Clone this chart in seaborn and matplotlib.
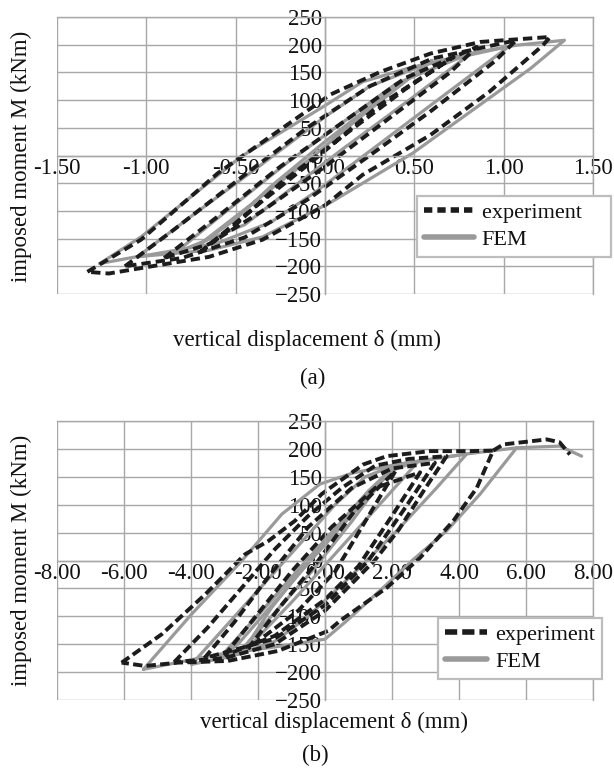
#!/usr/bin/env python3
"""
Hysteresis loops: experiment vs FEM, panels (a) and (b)
"""

import numpy as np
import pandas as pd
import matplotlib
matplotlib.use('Agg')
import matplotlib.pyplot as plt
import seaborn as sns
from matplotlib.lines import Line2D
from matplotlib.ticker import MultipleLocator, FormatStrFormatter

sns.set_theme(style='white')
plt.rcParams['font.family'] = ['Liberation Serif', 'DejaVu Serif']

DARK = '#1c1c1c'
GRAY = '#9a9a9a'
GRID = '#a8a8a8'

# ---- panel (a): (displacement mm, moment kNm), each loop closed ----
fem_a1 = [(-1.26, -195), (-1.03, -147), (-0.47, -2), (0.0, 90), (0.21, 133), (0.46, 157),
          (0.81, 184), (1.07, 199), (1.34, 208), (1.15, 157), (0.49, 4), (0.03, -85),
          (-0.35, -147), (-0.65, -171), (-1.06, -183), (-1.26, -195)]
fem_a2 = [(-1.05, -183), (-0.75, -110), (-0.35, -15), (0.0, 70), (0.25, 125), (0.55, 163),
          (1.03, 197), (0.63, 100), (0.28, 15), (-0.05, -65), (-0.3, -120), (-0.6, -158),
          (-1.05, -183)]
fem_a3 = [(-0.84, -176), (-0.55, -100), (-0.2, -10), (0.1, 60), (0.4, 130), (0.82, 185),
          (0.45, 95), (0.1, 12), (-0.15, -50), (-0.45, -125), (-0.84, -176)]
fem_a4 = [(-0.72, -165), (-0.4, -85), (-0.1, -10), (0.2, 70), (0.6, 172), (0.28, 95),
          (0.0, 25), (-0.3, -55), (-0.5, -115), (-0.72, -165)]

exp_a1 = [(-1.33, -210), (-1.03, -152), (-0.6, -32), (-0.28, 40), (0.03, 110), (0.31, 151),
          (0.59, 184), (0.87, 205), (1.26, 214), (1.22, 199), (0.92, 115), (0.59, 37),
          (0.21, -35), (0.0, -90), (-0.35, -152), (-0.65, -183), (-0.97, -200),
          (-1.21, -213), (-1.33, -210)]
exp_a2 = [(-1.12, -200), (-0.85, -135), (-0.45, -35), (-0.1, 50), (0.25, 125), (0.6, 175),
          (1.07, 208), (0.95, 170), (0.6, 82), (0.25, 0), (-0.1, -80), (-0.45, -148),
          (-0.8, -185), (-1.12, -200)]
exp_a3 = [(-0.9, -185), (-0.6, -110), (-0.25, -20), (0.1, 60), (0.45, 140), (0.85, 196),
          (0.7, 150), (0.35, 65), (0.0, -20), (-0.35, -100), (-0.65, -160), (-0.9, -185)]
exp_a4 = [(-0.7, -175), (-0.4, -95), (-0.05, -5), (0.3, 90), (0.72, 178), (0.45, 120),
          (0.1, 35), (-0.25, -50), (-0.5, -125), (-0.7, -175)]

# ---- panel (b) ----
fem_b1 = [(-5.42, -195), (-3.98, -96), (-2.49, -1), (-1.29, 83), (-0.15, 137), (0.84, 157),
          (2.14, 172), (4.23, 191), (5.72, 202), (4.63, 119), (3.63, 53), (2.64, 2),
          (1.84, -43), (0.65, -108), (0.0, -141), (-1.5, -155), (-3.16, -168), (-5.42, -195)]
fem_b_end = [(5.72, 202), (7.01, 205), (7.66, 187)]
fem_b2 = [(-3.98, -186), (-2.5, -87), (-1.0, 13), (0.3, 100), (1.2, 150), (2.14, 172),
          (4.23, 191), (3.33, 130), (2.14, 53), (0.84, -24), (-0.5, -100), (-1.5, -145),
          (-2.8, -172), (-3.98, -186)]
fem_b3 = [(-3.18, -177), (-2.0, -98), (-0.5, 2), (0.9, 95), (1.6, 140), (2.14, 165),
          (2.79, 178), (2.0, 125), (0.5, 25), (-1.0, -75), (-2.2, -150), (-3.18, -177)]
fem_b4 = [(-3.18, -177), (-2.2, -112), (-1.0, -30), (0.3, 57), (1.3, 125), (2.14, 172),
          (1.0, 95), (-0.5, -5), (-1.8, -95), (-2.6, -150), (-3.18, -177)]
fem_b5 = [(-2.6, -168), (-1.6, -100), (-0.4, -20), (0.8, 70), (1.9, 160), (0.7, 80),
          (-0.6, -10), (-1.6, -85), (-2.2, -140), (-2.6, -168)]

exp_b1 = [(-6.07, -183), (-4.87, -132), (-3.58, -61), (-2.39, 11), (-1.69, 35), (-0.9, 71),
          (-0.1, 119), (0.15, 130), (1.14, 172), (1.84, 187), (3.13, 196), (4.33, 196),
          (5.02, 197), (4.53, 130), (3.83, 71), (2.84, 5), (1.84, -49), (0.45, -108),
          (0.1, -126), (-1.4, -162), (-2.9, -180), (-4.38, -183), (-5.37, -189), (-6.07, -183)]
exp_b_end = [(5.02, 197), (5.32, 208), (6.62, 217), (7.0, 212), (7.31, 190)]
exp_b2 = [(-4.5, -182), (-3.5, -120), (-2.5, -50), (-1.5, 20), (-0.5, 80), (0.5, 130),
          (1.5, 170), (2.5, 182), (3.63, 187), (3.0, 130), (2.2, 55), (1.48, 0), (0.0, -90),
          (-1.5, -150), (-3.0, -175), (-4.5, -182)]
exp_b3 = [(-3.6, -175), (-2.7, -110), (-1.7, -30), (-0.5, 60), (0.8, 130), (2.0, 165),
          (3.28, 175), (2.4, 95), (1.3, 0), (0.0, -80), (-1.5, -140), (-3.6, -175)]
exp_b4 = [(-3.0, -170), (-2.0, -95), (-1.0, -20), (0.2, 60), (1.5, 130), (2.84, 158),
          (2.0, 80), (1.0, -10), (0.0, -70), (-1.5, -135), (-3.0, -170)]
exp_b5 = [(-2.3, -158), (-1.3, -80), (-0.2, 0), (0.9, 90), (2.1, 160), (1.2, 70),
          (0.3, -20), (-0.8, -90), (-2.3, -158)]

y_ticks = [-250, -200, -150, -100, -50, 0, 50, 100, 150, 200, 250]


def loops_to_df(loops):
    rows = []
    for i, pts in enumerate(loops):
        for x, m in pts:
            rows.append((i, x, m))
    return pd.DataFrame(rows, columns=['loop', 'x', 'M'])


def draw_panel(ax, fem, exp, xlim, xmajor, xminor, dash):
    sns.lineplot(data=loops_to_df(fem), x='x', y='M', units='loop', estimator=None,
                 sort=False, color=GRAY, lw=2.3, ax=ax)
    sns.lineplot(data=loops_to_df(exp), x='x', y='M', units='loop', estimator=None,
                 sort=False, color=DARK, lw=2.8, linestyle=(0, dash), ax=ax)

    ax.set_xlim(-xlim, xlim)
    ax.set_ylim(-250, 250)
    ax.xaxis.set_major_locator(MultipleLocator(xmajor))
    ax.xaxis.set_minor_locator(MultipleLocator(xminor))
    ax.set_yticks(y_ticks)
    ax.yaxis.set_minor_locator(MultipleLocator(10))
    ax.xaxis.set_major_formatter(FormatStrFormatter('%.2f'))

    # axes through the origin, frame made of the outer grid lines
    ax.spines['left'].set_position('zero')
    ax.spines['bottom'].set_position('zero')
    for s in ax.spines.values():
        s.set_color(GRID)
        s.set_linewidth(1.0)
    ax.grid(True, which='major', color=GRID, lw=1.0)
    ax.set_axisbelow(True)
    ax.tick_params(which='both', direction='in', color=GRID, labelsize=16.5,
                   labelcolor='#111111')
    ax.tick_params(which='major', length=0, pad=2)
    ax.tick_params(which='minor', length=4, width=0.8)
    ax.set_xlabel('')
    ax.set_ylabel('')
    if ax.get_legend() is not None:
        ax.get_legend().remove()


def add_legend(fig, x0, y0, dash, hlen, exp_label):
    handles = [Line2D([], [], color=DARK, lw=4, linestyle=(0, dash)),
               Line2D([], [], color=GRAY, lw=4)]
    leg = fig.legend(handles, [exp_label, 'FEM'], loc='upper left',
                     bbox_to_anchor=(x0 / 614, 1 - y0 / 775), fontsize=16,
                     frameon=True, fancybox=False, edgecolor='#bdbdbd', framealpha=1,
                     handlelength=hlen, handletextpad=0.36, labelspacing=0.28,
                     borderpad=0.3, borderaxespad=0)
    leg.get_frame().set_linewidth(1.6)
    for t in leg.get_texts():
        t.set_color('#111111')


fig = plt.figure(figsize=(6.14, 7.75), dpi=100)
ax_a = fig.add_axes([57 / 614, 1 - 294 / 775, 536 / 614, 277 / 775])
ax_b = fig.add_axes([57 / 614, 1 - 700 / 775, 536 / 614, 279 / 775])

draw_panel(ax_a, [fem_a1, fem_a2, fem_a3, fem_a4], [exp_a1, exp_a2, exp_a3, exp_a4],
           1.5, 0.5, 0.125, (2.4, 1.3))
draw_panel(ax_b, [fem_b1, fem_b_end, fem_b2, fem_b3, fem_b4, fem_b5],
           [exp_b1, exp_b_end, exp_b2, exp_b3, exp_b4, exp_b5],
           8.0, 2.0, 0.4, (2.4, 1.1))

add_legend(fig, 417, 196, (1.5, 0.9), 2.25, 'experiment    ')
add_legend(fig, 438, 618, (2.2, 0.9), 1.9, 'experiment')

lab = dict(fontsize=16.5, color='#111111', ha='center', va='center')
fig.text(21 / 614, 1 - 156 / 775, 'imposed moment M (kNm)', rotation=90, **lab)
fig.text(307 / 614, 1 - 340 / 775, 'vertical displacement δ (mm)', **lab)
fig.text(313 / 614, 1 - 378 / 775, '(a)', **lab)
fig.text(21 / 614, 1 - 560 / 775, 'imposed moment M (kNm)', rotation=90, **lab)
fig.text(334 / 614, 1 - 722 / 775, 'vertical displacement δ (mm)', **lab)
fig.text(315 / 614, 1 - 755 / 775, '(b)', **lab)

fig.savefig('out.png', dpi=100)
plt.close(fig)
